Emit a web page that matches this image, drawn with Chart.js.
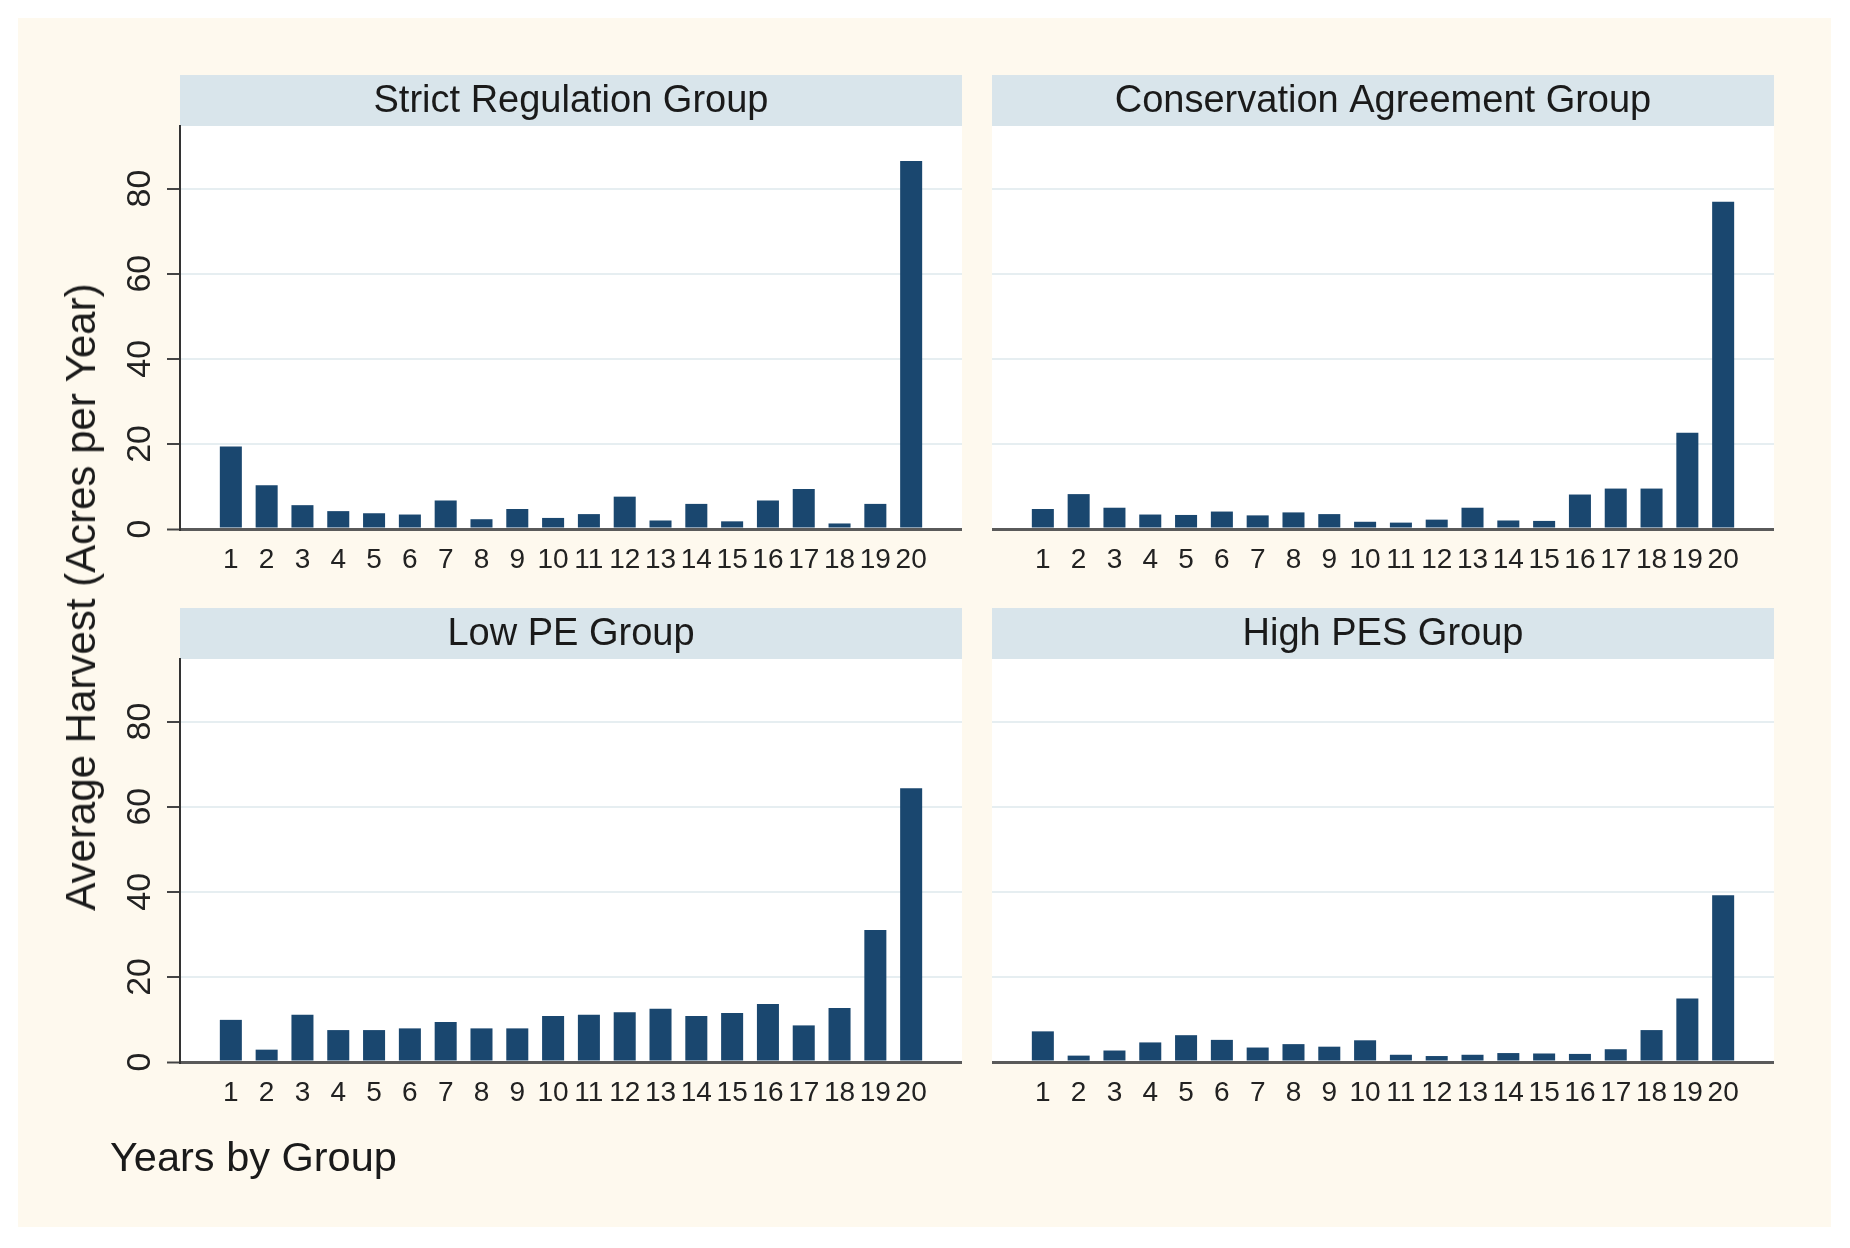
<!DOCTYPE html>
<html><head><meta charset="utf-8">
<script src="https://cdn.jsdelivr.net/npm/chart.js@4.4.1/dist/chart.umd.min.js"></script>
<style>
html,body{margin:0;padding:0;background:#fff;}
body{width:1850px;height:1248px;position:relative;overflow:hidden;font-family:"Liberation Sans",Arial,sans-serif;}
#bg{position:absolute;left:18px;top:18px;width:1813px;height:1209px;background:#fef9ee;}
canvas{position:absolute;}
#ytitle{position:absolute;left:81px;top:597px;transform:translate(-50%,-50%) rotate(-90deg);white-space:nowrap;font-size:42px;color:#1a1a1a;}
#xtitle{position:absolute;left:110px;top:1157px;transform:translateY(-50%);font-size:41.5px;white-space:nowrap;color:#1a1a1a;}
</style></head><body>
<div id="bg"></div>
<canvas id="c0" width="872" height="545" style="left:90px;top:75px"></canvas>
<canvas id="c1" width="782" height="545" style="left:992px;top:75px"></canvas>
<canvas id="c2" width="872" height="545" style="left:90px;top:608px"></canvas>
<canvas id="c3" width="782" height="545" style="left:992px;top:608px"></canvas>
<div id="ytitle">Average Harvest (Acres per Year)</div>
<div id="xtitle">Years by Group</div>
<script>
const years = [1,2,3,4,5,6,7,8,9,10,11,12,13,14,15,16,17,18,19,20];
const strictRegulation = [19.4,10.3,5.6,4.2,3.7,3.4,6.7,2.3,4.7,2.6,3.5,7.6,2.0,5.9,1.8,6.7,9.4,1.3,5.9,86.5];
const conservationAgreement = [4.7,8.2,5.0,3.4,3.3,4.1,3.2,3.9,3.5,1.7,1.5,2.2,5.0,2.0,1.9,8.1,9.5,9.5,22.6,76.9];
const lowPE = [9.9,2.9,11.1,7.5,7.5,7.9,9.4,7.9,7.9,10.8,11.1,11.7,12.5,10.8,11.5,13.6,8.6,12.7,31.0,64.3];
const highPES = [7.2,1.5,2.7,4.6,6.3,5.2,3.4,4.2,3.6,5.1,1.7,1.4,1.7,2.1,2.0,1.9,3.0,7.5,14.9,39.2];
const yTicks = [0,20,40,60,80];
const panelTitles = ["Strict Regulation Group","Conservation Agreement Group","Low PE Group","High PES Group"];

const FONT = '"Liberation Sans", Arial, sans-serif';
const stripPlugin = {
  id:'strip',
  beforeDraw(chart, args, opts){
    const {ctx, chartArea:a} = chart;
    ctx.save();
    ctx.fillStyle='#ffffff';
    ctx.fillRect(a.left, a.top, a.right-a.left, a.bottom-a.top);
    ctx.fillStyle='#d9e5eb';
    ctx.fillRect(a.left, a.top-51, a.right-a.left, 51);
    ctx.fillStyle='#1a1a1a';
    ctx.font='38px '+FONT;
    ctx.textAlign='center';
    ctx.textBaseline='alphabetic';
    ctx.fillText(opts.text, (a.left+a.right)/2, a.top-14);
    ctx.restore();
  },
  afterDraw(chart, args, opts){
    if(!opts.yLabels) return;
    const {ctx, chartArea:a} = chart;
    const ys = chart.scales.y;
    ctx.save();
    ctx.fillStyle='#222';
    ctx.font='34px '+FONT;
    ctx.textAlign='center';
    ctx.textBaseline='middle';
    ys.ticks.forEach(t=>{
      const py = ys.getPixelForValue(t.value);
      ctx.save();
      ctx.translate(a.left-40, py);
      ctx.rotate(-Math.PI/2);
      ctx.fillText(String(t.value), 0, 1);
      ctx.restore();
    });
    ctx.restore();
  }
};

function makeChart(id, title, values, showY){
  new Chart(document.getElementById(id), {
    type:'bar',
    data:{datasets:[{data: years.map((x,i)=>({x:x, y:values[i]})), backgroundColor:'#1a476f', borderWidth:0, categoryPercentage:1, barPercentage:0.615}]},
    options:{
      responsive:false, animation:false, devicePixelRatio:1,
      layout:{padding:{top:51,left:0,right:0,bottom:0}},
      plugins:{legend:{display:false}, tooltip:{enabled:false}, title:{display:false}, strip:{text:title, yLabels:showY}},
      scales:{
        x:{type:'linear', min:-0.42, max:21.42, offset:false,
           grid:{display:false, drawTicks:false}, border:{display:false},
           afterBuildTicks:s=>{s.ticks = years.map(v=>({value:v}));},
           afterFit:s=>{s.height = 91;},
           ticks:{autoSkip:false, maxRotation:0, minRotation:0, padding:14, color:'#222', font:{family:FONT, size:28}, callback:v=>String(v)}},
        y:{min:0, max:94.7,
           afterBuildTicks:s=>{s.ticks = yTicks.map(v=>({value:v}));},
           afterFit:s=>{s.width = showY ? 90 : 0;},
           grid:{color:c=>(c.tick && c.tick.value===0)?'#5a5a5a':'#e6eef1', lineWidth:c=>(c.tick && c.tick.value===0)?3:2,
                 drawTicks:showY, tickLength:13, tickColor:'#444', tickWidth:2},
           border:{display:showY, color:'#333', width:2},
           ticks:{display:false}}
      }
    },
    plugins:[stripPlugin]
  });
}
makeChart('c0', panelTitles[0], strictRegulation, true);
makeChart('c1', panelTitles[1], conservationAgreement, false);
makeChart('c2', panelTitles[2], lowPE, true);
makeChart('c3', panelTitles[3], highPES, false);
</script>
</body></html>
